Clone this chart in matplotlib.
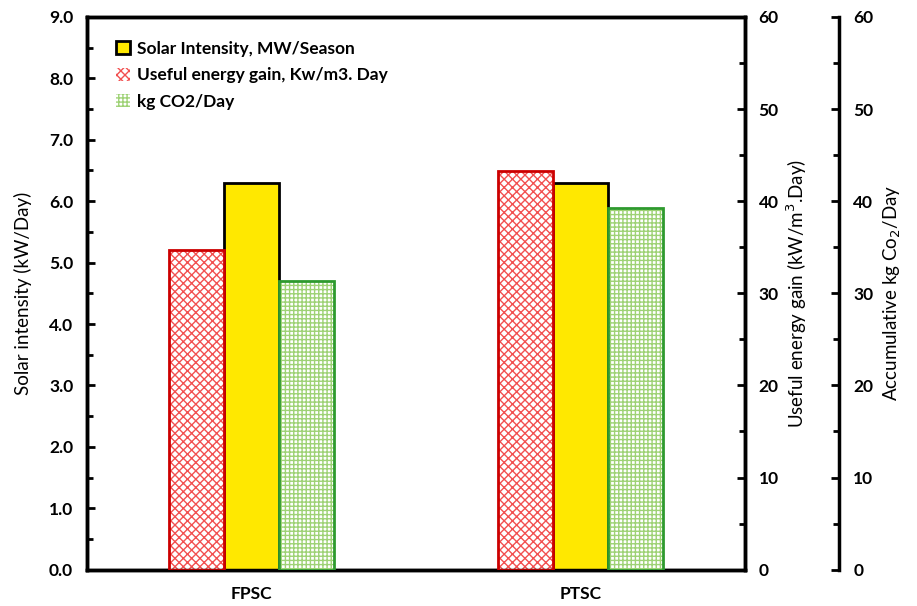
import numpy as np
import matplotlib.pyplot as plt
from matplotlib.ticker import MultipleLocator, FormatStrFormatter

plt.rcParams['font.family'] = ['Lato', 'DejaVu Sans']
plt.rcParams['hatch.linewidth'] = 1.0

# datos
systems = ['FPSC', 'PTSC']
solar_intensity = [6.3, 6.3]          # kW/Day (eje izquierdo)
useful_gain = [34.7, 43.3]            # kW/m3.Day (eje derecho)
co2_day = [31.3, 39.3]                # kg CO2/Day (tercer eje)

x = np.arange(len(systems))
w = 0.167

fig, ax = plt.subplots(figsize=(9.17, 6.06), dpi=100)
fig.subplots_adjust(left=0.095, right=0.812, top=0.972, bottom=0.06)

ax2 = ax.twinx()
ax3 = ax.twinx()
ax3.spines['right'].set_position(('axes', 1.144))

# barras
b2 = ax2.bar(x - w, useful_gain, w, facecolor='white', edgecolor='#f25050',
             hatch='xxxx', linewidth=0, zorder=2)
ax2.bar(x - w, useful_gain, w, facecolor='none', edgecolor='#cc0000', linewidth=2, zorder=3)
b1 = ax.bar(x, solar_intensity, w, facecolor='#ffe800', edgecolor='black', linewidth=2, zorder=3)
b3 = ax3.bar(x + w, co2_day, w, facecolor='white', edgecolor='#9ed275',
             hatch='++++', linewidth=0, zorder=2)
ax3.bar(x + w, co2_day, w, facecolor='none', edgecolor='#2e9a2e', linewidth=2, zorder=3)

# ejes
ax.set_xlim(-0.5, 1.5)
ax.set_ylim(0, 9)
ax2.set_ylim(0, 60)
ax3.set_ylim(0, 60)

ax.set_xticks(x)
ax.set_xticklabels(systems, fontsize=12.5, fontweight='bold')
ax.tick_params(axis='x', length=0, pad=12)

ax.yaxis.set_major_locator(MultipleLocator(1))
ax.yaxis.set_minor_locator(MultipleLocator(0.5))
ax.yaxis.set_major_formatter(FormatStrFormatter('%.1f'))
for a in (ax2, ax3):
    a.yaxis.set_major_locator(MultipleLocator(10))
    a.yaxis.set_minor_locator(MultipleLocator(5))

for a in (ax, ax2, ax3):
    a.tick_params(axis='y', which='major', direction='in', length=6, width=2,
                  labelsize=12.5, pad=10)
    a.tick_params(axis='y', which='minor', direction='in', length=4, width=2)
    for lab in a.get_yticklabels():
        lab.set_fontweight('bold')
    for s in a.spines.values():
        s.set_linewidth(2.5)

ax3.spines['left'].set_visible(False)
ax3.spines['top'].set_visible(False)
ax3.spines['bottom'].set_visible(False)

ax.set_ylabel('Solar intensity (kW/Day)', fontsize=13.5, labelpad=12)
ax2.set_ylabel('Useful energy gain (kW/m$^3$.Day)', fontsize=13.5, labelpad=4)
ax3.set_ylabel('Accumulative kg Co$_2$/Day', fontsize=13.5, labelpad=6)

leg = ax.legend([b1, b2, b3],
                ['Solar Intensity, MW/Season', 'Useful energy gain, Kw/m3. Day', 'kg CO2/Day'],
                loc='upper left', bbox_to_anchor=(0.02, 0.985), frameon=False,
                handlelength=0.8, handleheight=0.8, handletextpad=0.4,
                labelspacing=0.6, prop={'size': 12.5, 'weight': 'bold'})

plt.savefig('out.png', dpi=100)
